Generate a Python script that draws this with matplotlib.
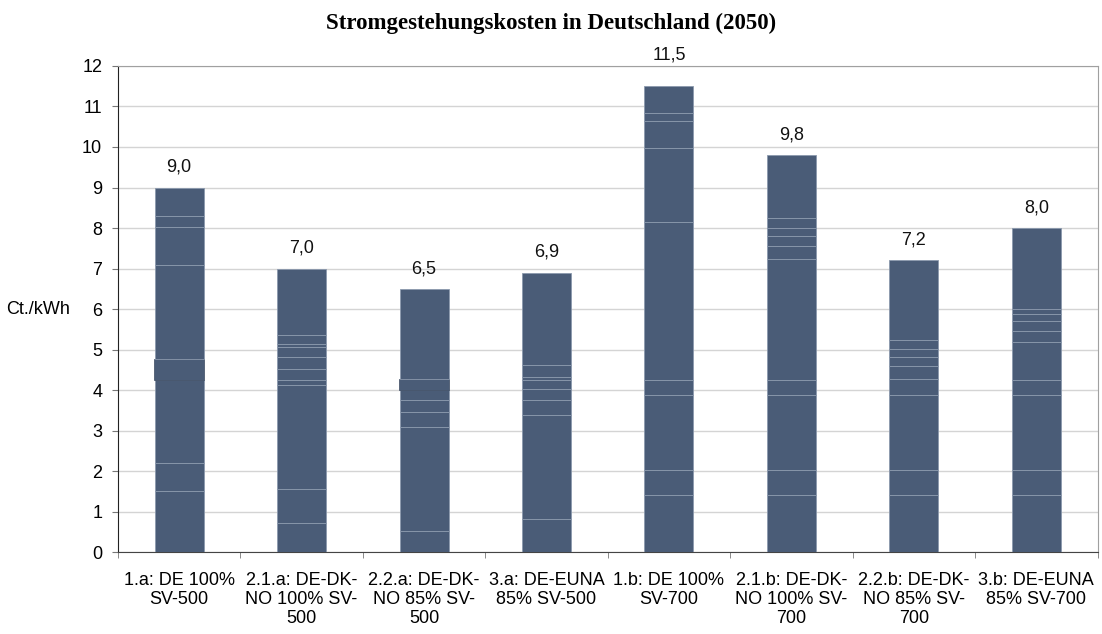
import numpy as np
import matplotlib.pyplot as plt

# Stromgestehungskosten 2050, Ct./kWh
labels = ['1.a: DE 100%\nSV-500', '2.1.a: DE-DK-\nNO 100% SV-\n500',
          '2.2.a: DE-DK-\nNO 85% SV-\n500', '3.a: DE-EUNA\n85% SV-500',
          '1.b: DE 100%\nSV-700', '2.1.b: DE-DK-\nNO 100% SV-\n700',
          '2.2.b: DE-DK-\nNO 85% SV-\n700', '3.b: DE-EUNA\n85% SV-700']
totals = [9.0, 7.0, 6.5, 6.9, 11.5, 9.8, 7.2, 8.0]

# cumulative boundaries of the stacked cost components
stacks = [
    [1.52, 2.21, 4.25, 4.78, 7.08, 8.02, 8.30, 9.0],
    [0.71, 1.55, 4.12, 4.26, 4.51, 4.81, 5.07, 5.13, 5.36, 7.0],
    [0.52, 3.08, 3.45, 3.75, 4.00, 4.27, 6.5],
    [0.81, 3.38, 3.75, 4.04, 4.26, 4.33, 4.63, 6.9],
    [1.40, 2.02, 3.89, 4.26, 8.14, 9.97, 10.63, 10.85, 11.5],
    [1.40, 2.02, 3.89, 4.26, 7.23, 7.55, 7.80, 8.01, 8.25, 9.8],
    [1.40, 2.02, 3.89, 4.27, 4.59, 4.81, 5.02, 5.23, 7.2],
    [1.40, 2.02, 3.89, 4.26, 5.18, 5.47, 5.70, 5.89, 5.99, 8.0],
]
# segments drawn with a dark outline (index of the segment in the stack)
dark_segments = {0: 3, 2: 5}

bar_color = '#4a5c77'
edge_color = '#8b99ad'
font = 'Liberation Sans'

fig = plt.figure(figsize=(11.02, 6.34), dpi=100)
ax = fig.add_axes([0.107, 0.129, 0.889, 0.767])

x = np.arange(len(labels))
for i, bounds in enumerate(stacks):
    bottom = 0
    for k, top in enumerate(bounds):
        if dark_segments.get(i) == k:
            ax.bar(x[i], top - bottom, 0.405, bottom=bottom, color=bar_color,
                   edgecolor='#3a4960', linewidth=0.5, zorder=3)
        else:
            ax.bar(x[i], top - bottom, 0.4, bottom=bottom, color=bar_color,
                   edgecolor=edge_color, linewidth=0.6, zorder=3)
        bottom = top
    # labels that would hit the top frame are moved above it
    ypos = max(totals[i] + 0.5, 12.27)  if totals[i] + 0.5 > 11.7 else totals[i] + 0.5
    ax.text(x[i], ypos, ('%.1f' % totals[i]).replace('.', ','),
            ha='center', va='center', fontsize=13, family=font,
            color='#111111', clip_on=False)

ax.set_xlim(-0.5, len(labels) - 0.5)
ax.set_ylim(0, 12)
ax.set_yticks(range(0, 13))
ax.yaxis.grid(True, color='#d4d4d4', linewidth=1, zorder=0)
ax.set_axisbelow(True)

ax.set_xticks(x)
ax.set_xticklabels(labels, fontsize=13, family=font, linespacing=1.15)
ax.set_xticks(np.arange(-0.5, len(labels)), minor=True)
ax.tick_params(axis='x', which='major', length=0, pad=14)
ax.tick_params(axis='x', which='minor', length=4, color='#777777', direction='out')
ax.tick_params(axis='y', length=4.3, color='#777777', labelsize=13, pad=7)
for t in ax.get_yticklabels():
    t.set_family(font)

ax.spines['left'].set_color('#222222')
ax.spines['bottom'].set_color('#444444')
ax.spines['top'].set_color('#a0a0a0')
ax.spines['right'].set_color('#a0a0a0')

ax.set_ylabel('Ct./kWh', rotation=0, fontsize=13, family=font,
              labelpad=9, va='center', ha='right')

fig.suptitle('Stromgestehungskosten in Deutschland (2050)', y=0.98,
             fontsize=16.5, fontweight='bold', family='Liberation Serif')

plt.savefig('out.png')
